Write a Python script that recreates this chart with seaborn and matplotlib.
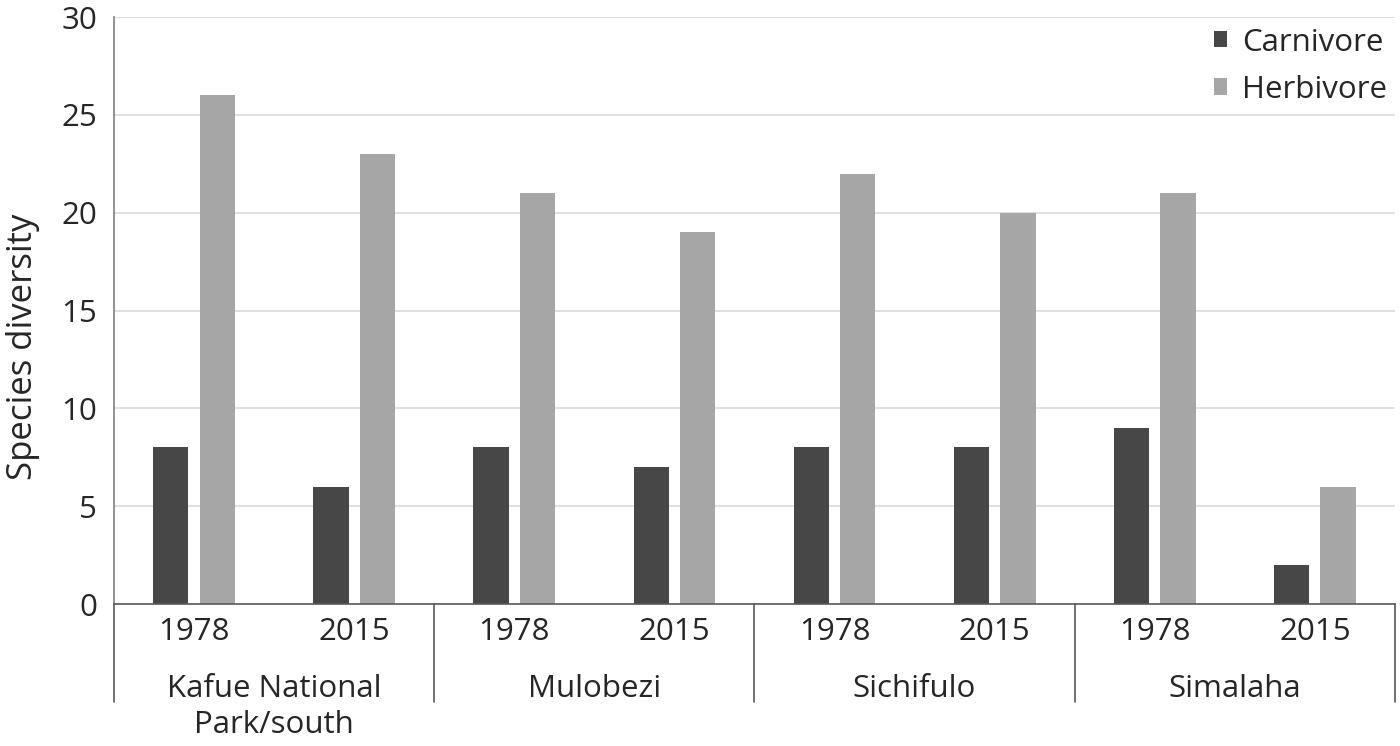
import pandas as pd
import matplotlib
matplotlib.use("Agg")
import matplotlib.pyplot as plt
import matplotlib.transforms as mtransforms
import seaborn as sns

sites = ["Kafue National\nPark/south", "Mulobezi", "Sichifulo", "Simalaha"]
years = ["1978", "2015"]
carnivore = [8, 6, 8, 7, 8, 8, 9, 2]
herbivore = [26, 23, 21, 19, 22, 20, 21, 6]

rows = []
cats = []
for i, site in enumerate(sites):
    for j, yr in enumerate(years):
        cat = f"{i}-{yr}"
        cats.append(cat)
        k = i * 2 + j
        rows.append({"cat": cat, "group": "Carnivore", "value": carnivore[k]})
        rows.append({"cat": cat, "group": "Herbivore", "value": herbivore[k]})
df = pd.DataFrame(rows)

sns.set_style("white")
plt.rcParams["font.family"] = ["Open Sans", "DejaVu Sans"]

fig = plt.figure(figsize=(14, 7.46), dpi=100)
ax = fig.add_axes([0.0814, 0.1903, 0.915, 0.7869])

sns.barplot(data=df, x="cat", y="value", hue="group", order=cats,
            hue_order=["Carnivore", "Herbivore"],
            palette={"Carnivore": "#474747", "Herbivore": "#a6a6a6"},
            width=0.58, gap=0.24, saturation=1, linewidth=0, ax=ax)

fs = 22.5
ax.set_ylim(0, 30)
ax.set_xlim(-0.5, len(cats) - 0.5)
ax.set_yticks(range(0, 31, 5))
ax.tick_params(axis="y", labelsize=fs, length=0, pad=12)
ax.yaxis.grid(True, color="#d9d9d9", linewidth=1.2)
ax.set_axisbelow(True)
ax.set_ylabel("Species diversity", fontsize=25)
ax.yaxis.set_label_coords(-0.0578, 0.438)
ax.set_xlabel("")

ax.set_xticks(range(len(cats)))
ax.set_xticklabels(years * len(sites), fontsize=fs)
ax.tick_params(axis="x", length=0, pad=9.5)

for side in ["top", "right"]:
    ax.spines[side].set_visible(False)
ax.spines["left"].set_color("#7f7f7f")
ax.spines["bottom"].set_color("#595959")
ax.spines["left"].set_linewidth(1.2)
ax.spines["bottom"].set_linewidth(1.2)

# separators between site groups, extending below the axis
trans = mtransforms.blended_transform_factory(ax.transData, ax.transAxes)
for b in range(len(sites) + 1):
    xb = b * 2 - 0.5
    ax.plot([xb, xb], [0, -0.167], transform=trans, color="#595959",
            linewidth=1.2, clip_on=False)

for i, site in enumerate(sites):
    ax.text(i * 2 + 0.5, -0.119, site, transform=trans, ha="center",
            va="top", fontsize=fs, multialignment="center",
            linespacing=1.28)

leg = ax.legend(loc="upper right", frameon=False, fontsize=fs,
                handlelength=0.42, handleheight=0.42, handletextpad=0.5,
                labelspacing=0.55, bbox_to_anchor=(1.016, 1.03))

fig.savefig("out.png", dpi=100)
